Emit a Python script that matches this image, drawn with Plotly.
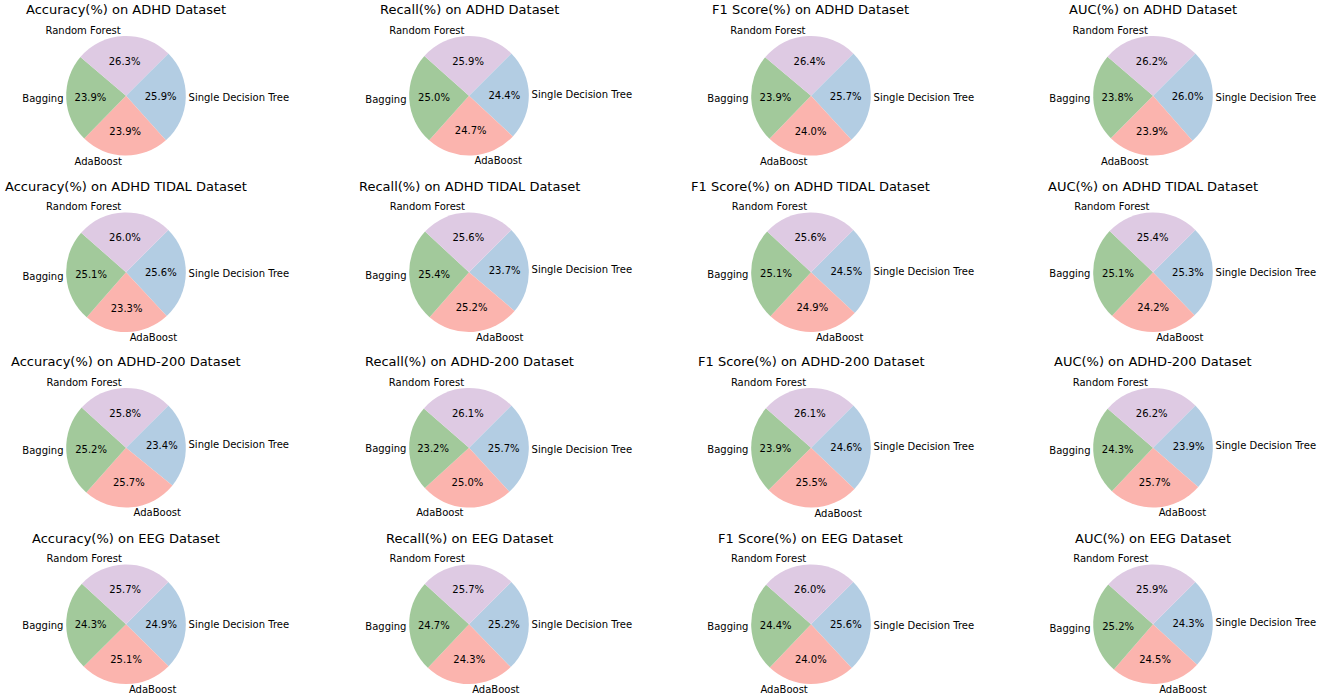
import plotly.graph_objects as go

models = ["Single Decision Tree", "AdaBoost", "Bagging", "Random Forest"]
colors = ["#b3cde3", "#fbb4ae", "#a2c99b", "#decae3"]

metrics = ["Accuracy(%)", "Recall(%)", "F1 Score(%)", "AUC(%)"]
datasets = ["ADHD Dataset", "ADHD TIDAL Dataset", "ADHD-200 Dataset", "EEG Dataset"]

# values per metric, in model order: SDT, AdaBoost, Bagging, Random Forest
adhd = [
    [25.9, 23.9, 23.9, 26.3],
    [24.4, 24.7, 25.0, 25.9],
    [25.7, 24.0, 23.9, 26.4],
    [26.0, 23.9, 23.8, 26.2],
]
adhd_tidal = [
    [25.6, 23.3, 25.1, 26.0],
    [23.7, 25.2, 25.4, 25.6],
    [24.5, 24.9, 25.1, 25.6],
    [25.3, 24.2, 25.1, 25.4],
]
adhd_200 = [
    [23.4, 25.7, 25.2, 25.8],
    [25.7, 25.0, 23.2, 26.1],
    [24.6, 25.5, 23.9, 26.1],
    [23.9, 25.7, 24.3, 26.2],
]
eeg = [
    [24.9, 25.1, 24.3, 25.7],
    [25.2, 24.3, 24.7, 25.7],
    [25.6, 24.0, 24.4, 26.0],
    [24.3, 24.5, 25.2, 25.9],
]
all_data = [adhd, adhd_tidal, adhd_200, eeg]

W, H = 1325, 700
col_cx = [126, 469, 811, 1153]
row_cy = [96, 273, 449, 626]
R = 60

fig = go.Figure()
annotations = []
font = "DejaVu Sans, Arial, sans-serif"

for i, ds in enumerate(datasets):
    for j, m in enumerate(metrics):
        vals = all_data[i][j]
        cx, cy = col_cx[j], row_cy[i]
        dom = dict(
            x=[(cx - R) / W, (cx + R) / W],
            y=[1 - (cy + R) / H, 1 - (cy - R) / H],
        )
        # slices with percentages inside
        fig.add_trace(go.Pie(
            labels=models, values=vals, domain=dom,
            sort=False, direction="clockwise", rotation=45,
            marker=dict(colors=colors, line=dict(width=0)),
            texttemplate="%{value:.1f}%", textposition="inside",
            insidetextorientation="horizontal",
            textfont=dict(size=10, color="black", family=font),
            showlegend=False, hoverinfo="label+value",
        ))
        # transparent copy carrying the outside labels
        fig.add_trace(go.Pie(
            labels=models, values=vals, domain=dom,
            sort=False, direction="clockwise", rotation=45,
            marker=dict(colors=["rgba(0,0,0,0)"] * 4, line=dict(width=0)),
            texttemplate="%{label}", textposition="outside",
            outsidetextfont=dict(size=10, color="black", family=font),
            showlegend=False, hoverinfo="skip",
        ))
        annotations.append(dict(
            text=f"{m} on {ds}", x=cx / W, y=1 - (cy - 86) / H,
            xref="paper", yref="paper", xanchor="center", yanchor="middle",
            showarrow=False, font=dict(size=13, color="black", family=font),
        ))

fig.update_layout(
    width=W, height=H,
    margin=dict(l=0, r=0, t=0, b=0),
    paper_bgcolor="white",
    annotations=annotations,
    font=dict(family=font),
)

fig.write_html(
    "out.html",
    config={"displayModeBar": False},
    post_script="document.body.style.margin='0';document.body.style.overflow='hidden';",
)
